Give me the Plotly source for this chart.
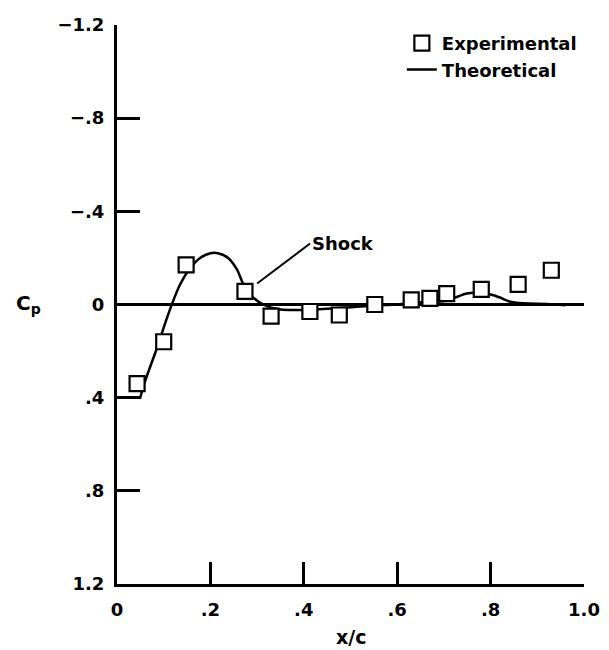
import plotly.graph_objects as go

# Experimental data (x/c, Cp)
exp_x = [0.043, 0.100, 0.148, 0.274, 0.330, 0.413, 0.476, 0.552, 0.630, 0.670, 0.706, 0.780, 0.859, 0.930]
exp_cp = [0.34, 0.16, -0.17, -0.056, 0.05, 0.03, 0.045, 0.0, -0.02, -0.026, -0.047, -0.065, -0.086, -0.147]

# Theoretical curve (x/c, Cp)
th_x = [0.049, 0.060, 0.085, 0.110, 0.135, 0.156, 0.178, 0.200, 0.216, 0.238, 0.257, 0.270, 0.289, 0.313,
        0.340, 0.377, 0.410, 0.450, 0.500, 0.550, 0.600, 0.650, 0.700, 0.724, 0.749, 0.770, 0.800, 0.820,
        0.840, 0.870, 0.920, 0.960]
th_cp = [0.405, 0.33, 0.19, 0.04, -0.086, -0.155, -0.20, -0.22, -0.22, -0.20, -0.15, -0.09, -0.035, 0.0,
         0.018, 0.024, 0.022, 0.018, 0.012, 0.004, 0.0, -0.01, -0.015, -0.03, -0.047, -0.05, -0.043, -0.03,
         -0.013, -0.005, -0.002, 0.003]

x_ticks = [0, 0.2, 0.4, 0.6, 0.8, 1.0]
x_tick_labels = ["0", ".2", ".4", ".6", ".8", "1.0"]
y_ticks = [-1.2, -0.8, -0.4, 0, 0.4, 0.8, 1.2]
y_tick_labels = ["\u22121.2", "\u2212.8", "\u2212.4", "0", ".4", ".8", "1.2"]

FONT = "DejaVu Sans"

fig = go.Figure()
fig.add_trace(go.Scatter(
    x=th_x, y=th_cp, mode="lines", name="Theoretical", legendrank=2,
    line=dict(color="black", width=2.5, shape="spline", smoothing=0.8),
))
fig.add_trace(go.Scatter(
    x=exp_x, y=exp_cp, mode="markers", name="Experimental", legendrank=1,
    marker=dict(symbol="square", size=15, color="white", line=dict(color="black", width=2.2)),
))

fig.update_layout(
    width=609, height=650,
    margin=dict(l=117, r=25, t=25, b=66),
    paper_bgcolor="white", plot_bgcolor="white",
    font=dict(family=FONT, size=18, color="black", weight="bold"),
    showlegend=True,
    legend=dict(
        x=0.61, y=1.0, xanchor="left", yanchor="top",
        traceorder="normal",
        bgcolor="rgba(0,0,0,0)",
        font=dict(family=FONT, size=18, color="black", weight="bold"),
    ),
    xaxis=dict(
        range=[0, 1.0], tickvals=x_ticks, ticktext=x_tick_labels,
        ticks="inside", ticklen=22, tickwidth=2.5, tickcolor="black",
        showline=True, linewidth=3, linecolor="black", mirror=False,
        showgrid=False, zeroline=False, ticklabelstandoff=7, automargin=False,
    ),
    yaxis=dict(
        range=[1.2, -1.2], tickvals=y_ticks, ticktext=y_tick_labels,
        ticks="inside", ticklen=23, tickwidth=2.5, tickcolor="black",
        showline=True, linewidth=3, linecolor="black", mirror=False,
        showgrid=False, zeroline=True, zerolinewidth=3, zerolinecolor="black",
        ticklabelstandoff=6, automargin=False,
    ),
    annotations=[
        dict(
            x=0.30, y=-0.09, xref="x", yref="y",
            text="Shock", showarrow=True, arrowhead=0, arrowwidth=2, arrowcolor="black",
            ax=53, ay=-40, xanchor="left", yanchor="middle",
            font=dict(family=FONT, size=18, weight="bold"),
        ),
        dict(
            x=-0.22, y=0, xref="paper", yref="y",
            text="C<sub>p</sub>", showarrow=False, xanchor="left", yanchor="middle",
            font=dict(family=FONT, size=20, weight="bold"), yshift=1,
        ),
        dict(
            x=0.5, y=-0.095, xref="paper", yref="paper",
            text="x/c", showarrow=False, xanchor="center", yanchor="middle",
            font=dict(family=FONT, size=19, weight="bold"),
        ),
    ],
)

fig.write_html("out.html")
